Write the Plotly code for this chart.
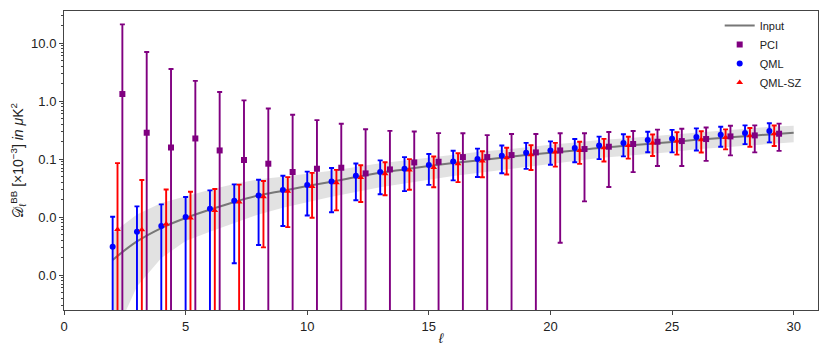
import plotly.graph_objects as go

# multipoles
ell = list(range(2, 30))
ell_input = list(range(2, 31))

# input spectrum and its shaded band
input_dl = [0.00182, 0.00379, 0.00646, 0.00962, 0.0134, 0.0182, 0.0236, 0.0284,
            0.0342, 0.0406, 0.049, 0.058, 0.0662, 0.0757, 0.0853, 0.0946, 0.105,
            0.117, 0.1285, 0.1406, 0.155, 0.1675, 0.1815, 0.197, 0.214, 0.231,
            0.248, 0.266, 0.284]
band_hi = [0.00532, 0.01107, 0.01744, 0.02304, 0.02965, 0.0372, 0.0446, 0.0495,
           0.0551, 0.0628, 0.0729, 0.0846, 0.0946, 0.106, 0.1195, 0.1325, 0.1443,
           0.1608, 0.1766, 0.1932, 0.213, 0.2256, 0.2445, 0.2654, 0.2883, 0.3112,
           0.334, 0.3583, 0.375]
band_lo = [0.000076, 0.000635, 0.00196, 0.00386, 0.0056, 0.0079, 0.0111, 0.01446,
           0.0181, 0.0224, 0.027, 0.0326, 0.038, 0.0443, 0.0509, 0.0576, 0.0652,
           0.0742, 0.083, 0.0927, 0.1042, 0.1126, 0.122, 0.1324, 0.1468, 0.1585,
           0.1701, 0.1825, 0.1948]

# estimators
pci = [1.32, 0.284, 0.158, 0.226, 0.1406, 0.0962, 0.083, 0.0597, 0.068, 0.0708,
       0.0565, 0.0662, 0.0873, 0.0897, 0.108, 0.108, 0.117, 0.130, 0.1406, 0.1486,
       0.163, 0.1815, 0.1987, 0.204, 0.221, 0.2454, 0.2553, 0.273]
pci_err = [19.6, 6.7, 3.4, 2.0, 1.29, 0.93, 0.66, 0.52, 0.40, 0.335, 0.27, 0.24,
           0.21, 0.19, 0.17, 0.15, 0.153, 0.14, 0.137, 0.13, 0.13, 0.122, 0.123,
           0.128, 0.128, 0.13, 0.125, 0.135]

qml = [0.00308, 0.00558, 0.0070, 0.0100, 0.0139, 0.0191, 0.0236, 0.0292, 0.0356,
       0.0411, 0.0515, 0.0597, 0.068, 0.0789, 0.0909, 0.100, 0.114, 0.1286, 0.1406,
       0.155, 0.1714, 0.189, 0.213, 0.224, 0.239, 0.262, 0.2805, 0.304]
qml_err = [0.0070, 0.0097, 0.0095, 0.0121, 0.0149, 0.0175, 0.0203, 0.0222, 0.025,
           0.029, 0.032, 0.035, 0.040, 0.043, 0.048, 0.051, 0.057, 0.061, 0.061,
           0.067, 0.072, 0.078, 0.082, 0.094, 0.099, 0.099, 0.10, 0.11]

qml_sz = [0.00611, 0.00604, 0.00757, 0.0096, 0.0130, 0.01815, 0.0224, 0.0277,
          0.0337, 0.039, 0.0482, 0.0558, 0.0646, 0.0716, 0.083, 0.0924, 0.1052,
          0.1186, 0.132, 0.1406, 0.1567, 0.1714, 0.189, 0.204, 0.2155, 0.2357,
          0.2523, 0.273]
qml_sz_err = [0.079, 0.0374, 0.0223, 0.0177, 0.0174, 0.018, 0.0194, 0.021, 0.024,
              0.026, 0.030, 0.032, 0.035, 0.039, 0.043, 0.044, 0.051, 0.054, 0.058,
              0.058, 0.066, 0.070, 0.076, 0.085, 0.086, 0.089, 0.09, 0.105]

y_tickvals = [10, 1, 0.1, 0.01, 0.001]
y_ticktext = ["10.0", "1.0", "0.1", "0.0", "0.0"]

FONT = "Liberation Sans, Arial, sans-serif"

fig = go.Figure()

# shaded band
fig.add_trace(go.Scatter(x=ell_input, y=band_hi, mode="lines", line=dict(width=0),
                         showlegend=False, hoverinfo="skip"))
fig.add_trace(go.Scatter(x=ell_input, y=band_lo, mode="lines", line=dict(width=0),
                         fill="tonexty", fillcolor="rgba(190,190,190,0.45)",
                         showlegend=False, hoverinfo="skip"))

fig.add_trace(go.Scatter(x=ell_input, y=input_dl, mode="lines", name="Input",
                         line=dict(color="#777777", width=2, shape="spline"),
                         legendrank=1))


def est_trace(xs, ys, errs, name, color, symbol, rank):
    return go.Scatter(
        x=xs, y=ys, mode="markers", name=name, legendrank=rank,
        marker=dict(color=color, symbol=symbol, size=6, line=dict(width=0)),
        error_y=dict(type="data", array=errs, visible=True, color=color,
                     thickness=1.9, width=2.5),
    )


fig.add_trace(est_trace(ell, qml, qml_err, "QML", "#0000ff", "circle", 3))
fig.add_trace(est_trace([l + 0.2 for l in ell], qml_sz, qml_sz_err, "QML-SZ",
                        "#ff0000", "triangle-up", 4))
fig.add_trace(est_trace([l + 0.4 for l in ell], pci, pci_err, "PCI",
                        "#800080", "square", 2))

axis_common = dict(showline=True, linecolor="#444444", linewidth=1, mirror=True,
                   ticks="outside", tickcolor="#444444", ticklen=4,
                   showgrid=False, zeroline=False, automargin=False,
                   tickfont=dict(family=FONT, size=13, color="#222222"))

# log minor ticks (2..9 in each decade)
minor_vals = [k * 10.0 ** e for e in range(-4, 2) for k in range(2, 10)]

fig.update_xaxes(range=[0, 31], tickvals=[0, 5, 10, 15, 20, 25, 30],
                 title=dict(text="<i>ℓ</i>", font=dict(family=FONT, size=14, color="#222222"),
                            standoff=0),
                 **axis_common)
fig.update_yaxes(type="log", range=[-3.603, 1.552], tickmode="array",
                 tickvals=y_tickvals, ticktext=y_ticktext,
                 minor=dict(ticks="outside", ticklen=2, tickmode="array",
                            tickvals=minor_vals, tickcolor="#444444", showgrid=False),
                 title=dict(text="𝒟<sub>ℓ</sub><sup>BB</sup> [×10<sup>−3</sup>] <i>in</i> <i>μ</i>K<sup>2</sup>",
                            font=dict(family=FONT, size=14, color="#222222"), standoff=4),
                 **axis_common)

# page body has an 8px default margin, so the figure is sized to fit the window
fig.update_layout(
    width=822, height=345,
    margin=dict(l=56, r=12, t=3, b=43),
    plot_bgcolor="white", paper_bgcolor="white",
    font=dict(family=FONT, size=12, color="#222222"),
    legend=dict(x=0.985, y=1.0, xanchor="right", yanchor="top",
                traceorder="normal",
                bgcolor="rgba(255,255,255,0)", font=dict(family=FONT, size=11),
                tracegroupgap=0, itemwidth=30),
)

fig.write_html("out.html")
